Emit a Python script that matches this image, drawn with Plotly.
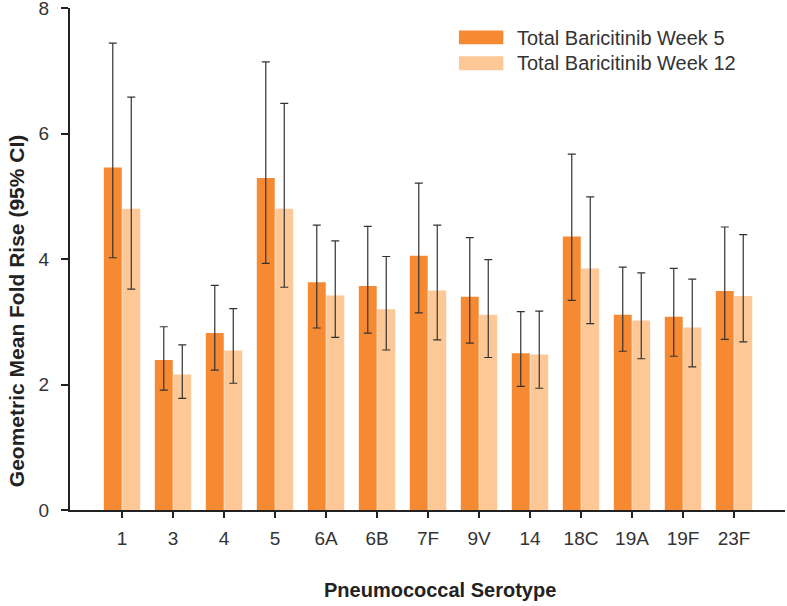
import plotly.graph_objects as go

serotypes = ["1", "3", "4", "5", "6A", "6B", "7F", "9V", "14", "18C", "19A", "19F", "23F"]

week5 = [5.46, 2.39, 2.82, 5.29, 3.63, 3.57, 4.05, 3.40, 2.50, 4.36, 3.11, 3.08, 3.49]
week5_upper = [7.44, 2.92, 3.58, 7.14, 4.54, 4.52, 5.21, 4.34, 3.16, 5.67, 3.87, 3.85, 4.51]
week5_lower = [4.02, 1.91, 2.23, 3.93, 2.90, 2.82, 3.14, 2.66, 1.97, 3.34, 2.53, 2.45, 2.72]

week12 = [4.80, 2.16, 2.54, 4.80, 3.42, 3.20, 3.50, 3.11, 2.48, 3.85, 3.02, 2.91, 3.41]
week12_upper = [6.58, 2.63, 3.21, 6.48, 4.29, 4.04, 4.54, 3.99, 3.17, 4.99, 3.78, 3.68, 4.39]
week12_lower = [3.52, 1.78, 2.02, 3.55, 2.75, 2.55, 2.71, 2.43, 1.94, 2.97, 2.41, 2.28, 2.68]

series_names = ["Total Baricitinib Week 5", "Total Baricitinib Week 12"]
colors = ["#F68A32", "#FDC896"]

FONT = "Arial, 'Liberation Sans', sans-serif"

def err(vals, up, lo, color="#333333"):
    return dict(
        type="data", symmetric=False,
        array=[u - v for u, v in zip(up, vals)],
        arrayminus=[v - l for v, l in zip(vals, lo)],
        color=color, thickness=1.2, width=4,
    )

fig = go.Figure()
fig.add_trace(go.Bar(
    x=serotypes, y=week5, name=series_names[0], marker_color=colors[0],
    marker_line_width=0, error_y=err(week5, week5_upper, week5_lower), showlegend=False,
))
fig.add_trace(go.Bar(
    x=serotypes, y=week12, name=series_names[1], marker_color=colors[1],
    marker_line_width=0, error_y=err(week12, week12_upper, week12_lower), showlegend=False,
))

# custom legend (wide swatches like the original)
legend_rows = [(0.928, 0.955, 0.941), (0.876, 0.904, 0.890)]
for (y0, y1, yc), name, col in zip(legend_rows, series_names, colors):
    fig.add_shape(type="rect", xref="paper", yref="paper", x0=0.544, x1=0.606,
                  y0=y0, y1=y1, fillcolor=col, line_width=0)
    fig.add_annotation(xref="paper", yref="paper", x=0.622, y=yc, text=name,
                       showarrow=False, xanchor="left", yanchor="middle",
                       font=dict(family=FONT, size=20, color="#333333"))

# axis titles
fig.add_annotation(xref="paper", yref="paper", x=(440 - 70) / 715, y=-0.16,
                   text="<b>Pneumococcal Serotype</b>", showarrow=False,
                   xanchor="center", yanchor="middle",
                   font=dict(family=FONT, size=20, color="#222222"))
fig.add_annotation(xref="paper", yref="paper", x=(16 - 70) / 715, y=(509.7 - 311) / 501.7,
                   text="<b>Geometric Mean Fold Rise (95% CI)</b>", showarrow=False,
                   textangle=-90, xanchor="center", yanchor="middle",
                   font=dict(family=FONT, size=21, color="#222222"))

fig.update_layout(
    width=787, height=606,
    margin=dict(l=70, r=2, t=8, b=96),
    plot_bgcolor="white", paper_bgcolor="white",
    barmode="group", bargap=0.275, bargroupgap=0.03,
    font=dict(family=FONT, size=19, color="#333333"),
    xaxis=dict(
        range=[-1.02, 13.0], showline=True, linecolor="#222222", linewidth=2,
        ticks="outside", ticklen=6, tickwidth=2, tickcolor="#222222",
        showgrid=False, zeroline=False, ticklabelstandoff=4, automargin=False,
        ticklabeloverflow="allow",
        tickfont=dict(family=FONT, size=19, color="#333333"),
    ),
    yaxis=dict(
        range=[0, 8], tickvals=[0, 2, 4, 6, 8], showline=True,
        linecolor="#222222", linewidth=2, ticks="outside", ticklen=7,
        tickwidth=2, tickcolor="#222222", showgrid=False, zeroline=False,
        ticklabelstandoff=8, automargin=False, ticklabeloverflow="allow",
        tickfont=dict(family=FONT, size=19, color="#333333"),
    ),
)

fig.write_html(
    "out.html",
    config={"displayModeBar": False},
    post_script="document.body.style.margin='0px'; document.body.style.overflow='hidden';",
)
